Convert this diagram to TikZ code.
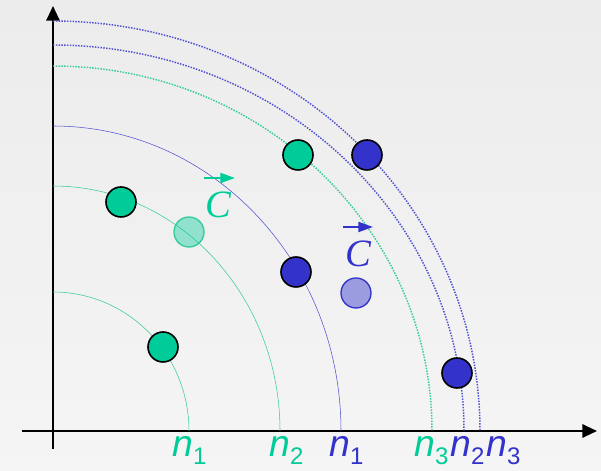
\documentclass[tikz,border=0pt]{standalone}
\usepackage{fontspec}
\usetikzlibrary{arrows.meta}
\newfontfamily\labelfont{Liberation Sans}
\newfontfamily\vecfont{Liberation Serif}
\definecolor{ballgreen}{RGB}{0,204,153}
\definecolor{ballblue}{RGB}{51,51,204}
\definecolor{arcgreen}{RGB}{51,204,153}
\definecolor{arcblue}{RGB}{80,80,210}
\newcommand{\nlab}[1]{{\labelfont\fontsize{28}{30}\selectfont\itshape n\raisebox{-6pt}{\fontsize{18}{20}\selectfont\upshape #1}}}
\newcommand{\veclab}{{\vecfont\fontsize{29}{30}\selectfont\itshape C}}
\tikzset{
  ball/.style={circle,draw=black,line width=1.2pt,minimum size=22.5pt,inner sep=0pt},
  ghost/.style={circle,line width=1pt,minimum size=22.5pt,inner sep=0pt},
  vecarrow/.style={line width=1.5pt,-{Triangle[length=11pt,width=7.5pt]}}
}
\begin{document}
\begin{tikzpicture}[x=0.75pt,y=0.75pt]
  % Background
  \shade[top color=gray!15,bottom color=gray!8] (-53,-40) rectangle (548,431);
  \useasboundingbox (-53,-40) rectangle (548,431);

  % Axes
  \draw[line width=1.5pt,-{Triangle[length=11pt,width=10pt]}] (0,-18) -- (0,425);
  \draw[line width=1.5pt,-{Triangle[length=11pt,width=10pt]}] (-31,0) -- (544,0);

  % Level arcs
  \draw[arcgreen,line width=0.4pt] (0,139) arc[start angle=90,end angle=0,x radius=136,y radius=139];
  \draw[arcgreen,line width=0.4pt] (0,245) arc[start angle=90,end angle=0,x radius=227,y radius=245];
  \draw[arcblue,line width=0.4pt] (0,305) arc[start angle=90,end angle=0,x radius=288,y radius=305];
  \draw[arcgreen,line width=1.1pt,densely dotted] (0,365) arc[start angle=90,end angle=0,x radius=379,y radius=365];
  \draw[arcblue,line width=1.1pt,densely dotted] (0,386) arc[start angle=90,end angle=0,x radius=411,y radius=386];
  \draw[arcblue,line width=1.1pt,densely dotted] (0,410) arc[start angle=90,end angle=0,x radius=427,y radius=410];

  % Particles
  \node[ball,fill=ballgreen] (g1) at (110,84) {};
  \node[ball,fill=ballgreen] (g2) at (68,229) {};
  \node[ball,fill=ballgreen] (g3) at (245,276) {};
  \node[ball,fill=ballblue] (b1) at (243,159) {};
  \node[ball,fill=ballblue] (b2) at (314,276) {};
  \node[ball,fill=ballblue] (b3) at (404,58) {};

  % Centres of mass
  \node[ghost,draw=arcgreen,fill=ballgreen,fill opacity=0.4,draw opacity=1] (gc) at (136,199) {};
  \node[ghost,draw=ballblue,fill=ballblue,fill opacity=0.45,draw opacity=1] (bc) at (303,138) {};
  \node[ballgreen] (cg) at (165,226) {\veclab};
  \draw[ballgreen,vecarrow] (151,253) -- (182,253);
  \node[ballblue] (cb) at (305,177) {\veclab};
  \draw[ballblue,vecarrow] (290,204) -- (320,204);

  % Axis labels
  \node[ballgreen,anchor=base west,inner sep=0pt] (lg1) at (119,-26) {\nlab{1}};
  \node[ballgreen,anchor=base west,inner sep=0pt] (lg2) at (216,-26) {\nlab{2}};
  \node[ballblue,anchor=base west,inner sep=0pt] (lb1) at (276,-26) {\nlab{1}};
  \node[ballgreen,anchor=base west,inner sep=0pt] (lg3) at (361,-26) {\nlab{3}};
  \node[ballblue,anchor=base west,inner sep=0pt] (lb2) at (397,-26) {\nlab{2}};
  \node[ballblue,anchor=base west,inner sep=0pt] (lb3) at (433,-26) {\nlab{3}};
\end{tikzpicture}
\end{document}
